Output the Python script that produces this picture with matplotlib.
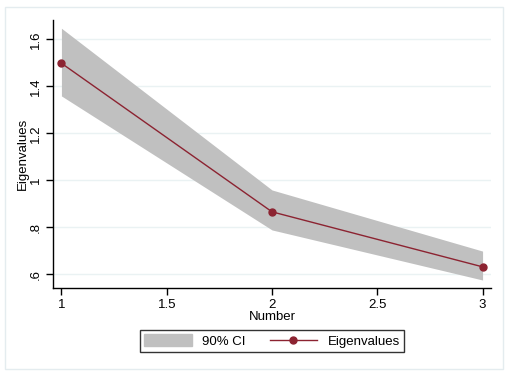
import numpy as np
import matplotlib
matplotlib.use('Agg')
import matplotlib.pyplot as plt
from matplotlib.patches import Rectangle

# Values
number = [1, 2, 3]
eigenvalues = [1.498, 0.866, 0.632]
ci_low = [1.359, 0.789, 0.576]
ci_high = [1.647, 0.959, 0.699]
x_ticks = [1, 1.5, 2, 2.5, 3]
x_ticklabels = ["1", "1.5", "2", "2.5", "3"]
y_ticks = [0.6, 0.8, 1.0, 1.2, 1.4, 1.6]
y_ticklabels = [".6", ".8", "1", "1.2", "1.4", "1.6"]

plt.rcParams['font.family'] = ['Liberation Sans', 'DejaVu Sans']

W, H = 507, 371
fig = plt.figure(figsize=(W / 100, H / 100), dpi=100)
fig.patch.set_facecolor("white")

# light outer frame like Stata's graph region
fig.patches.append(Rectangle((5 / W, 1 - 369 / H), 498 / W, 362 / H,
                             transform=fig.transFigure, fill=False,
                             edgecolor="#e4ecef", linewidth=1.0))

left, right, top, bottom = 53, 491, 20, 288
ax = fig.add_axes([left / W, 1 - bottom / H, (right - left) / W, (bottom - top) / H])

maroon = "#8c2331"
ax.fill_between(number, ci_low, ci_high, color="#c0c0c0", linewidth=0, zorder=2)
ax.plot(number, eigenvalues, color=maroon, linewidth=1.0, marker="o",
        markersize=5, zorder=3)

ax.set_xlim(0.96, 3.04)
ax.set_ylim(0.542, 1.682)
ax.set_xticks(x_ticks)
ax.set_xticklabels(x_ticklabels)
ax.set_yticks(y_ticks)
ax.set_yticklabels(y_ticklabels, rotation=90, va="center")

ax.grid(axis="y", color="#eaf2f3", linewidth=1.0, zorder=1)
ax.set_axisbelow(True)
for s in ["top", "right"]:
    ax.spines[s].set_visible(False)
for s in ["left", "bottom"]:
    ax.spines[s].set_linewidth(1.0)
ax.tick_params(axis="both", length=5, width=1.0, labelsize=9.5, pad=3)

ax.set_xlabel("Number", fontsize=9.5, labelpad=0)
ax.set_ylabel("Eigenvalues", fontsize=9.5, labelpad=1)

# legend
handles = [plt.Rectangle((0, 0), 1, 1, color="#c0c0c0"),
           plt.Line2D([], [], color=maroon, linewidth=1.0, marker="o", markersize=5)]
leg = fig.legend(handles, ["90% CI", "Eigenvalues"], loc="center",
                 bbox_to_anchor=(272 / W, 1 - 341 / H), ncol=2, fontsize=9.5,
                 frameon=True, fancybox=False, edgecolor="black",
                 handlelength=3.6, handleheight=1.0, columnspacing=1.8,
                 handletextpad=0.8, borderpad=0.35)
leg.get_frame().set_linewidth(1.0)

fig.savefig("out.png", dpi=100)
